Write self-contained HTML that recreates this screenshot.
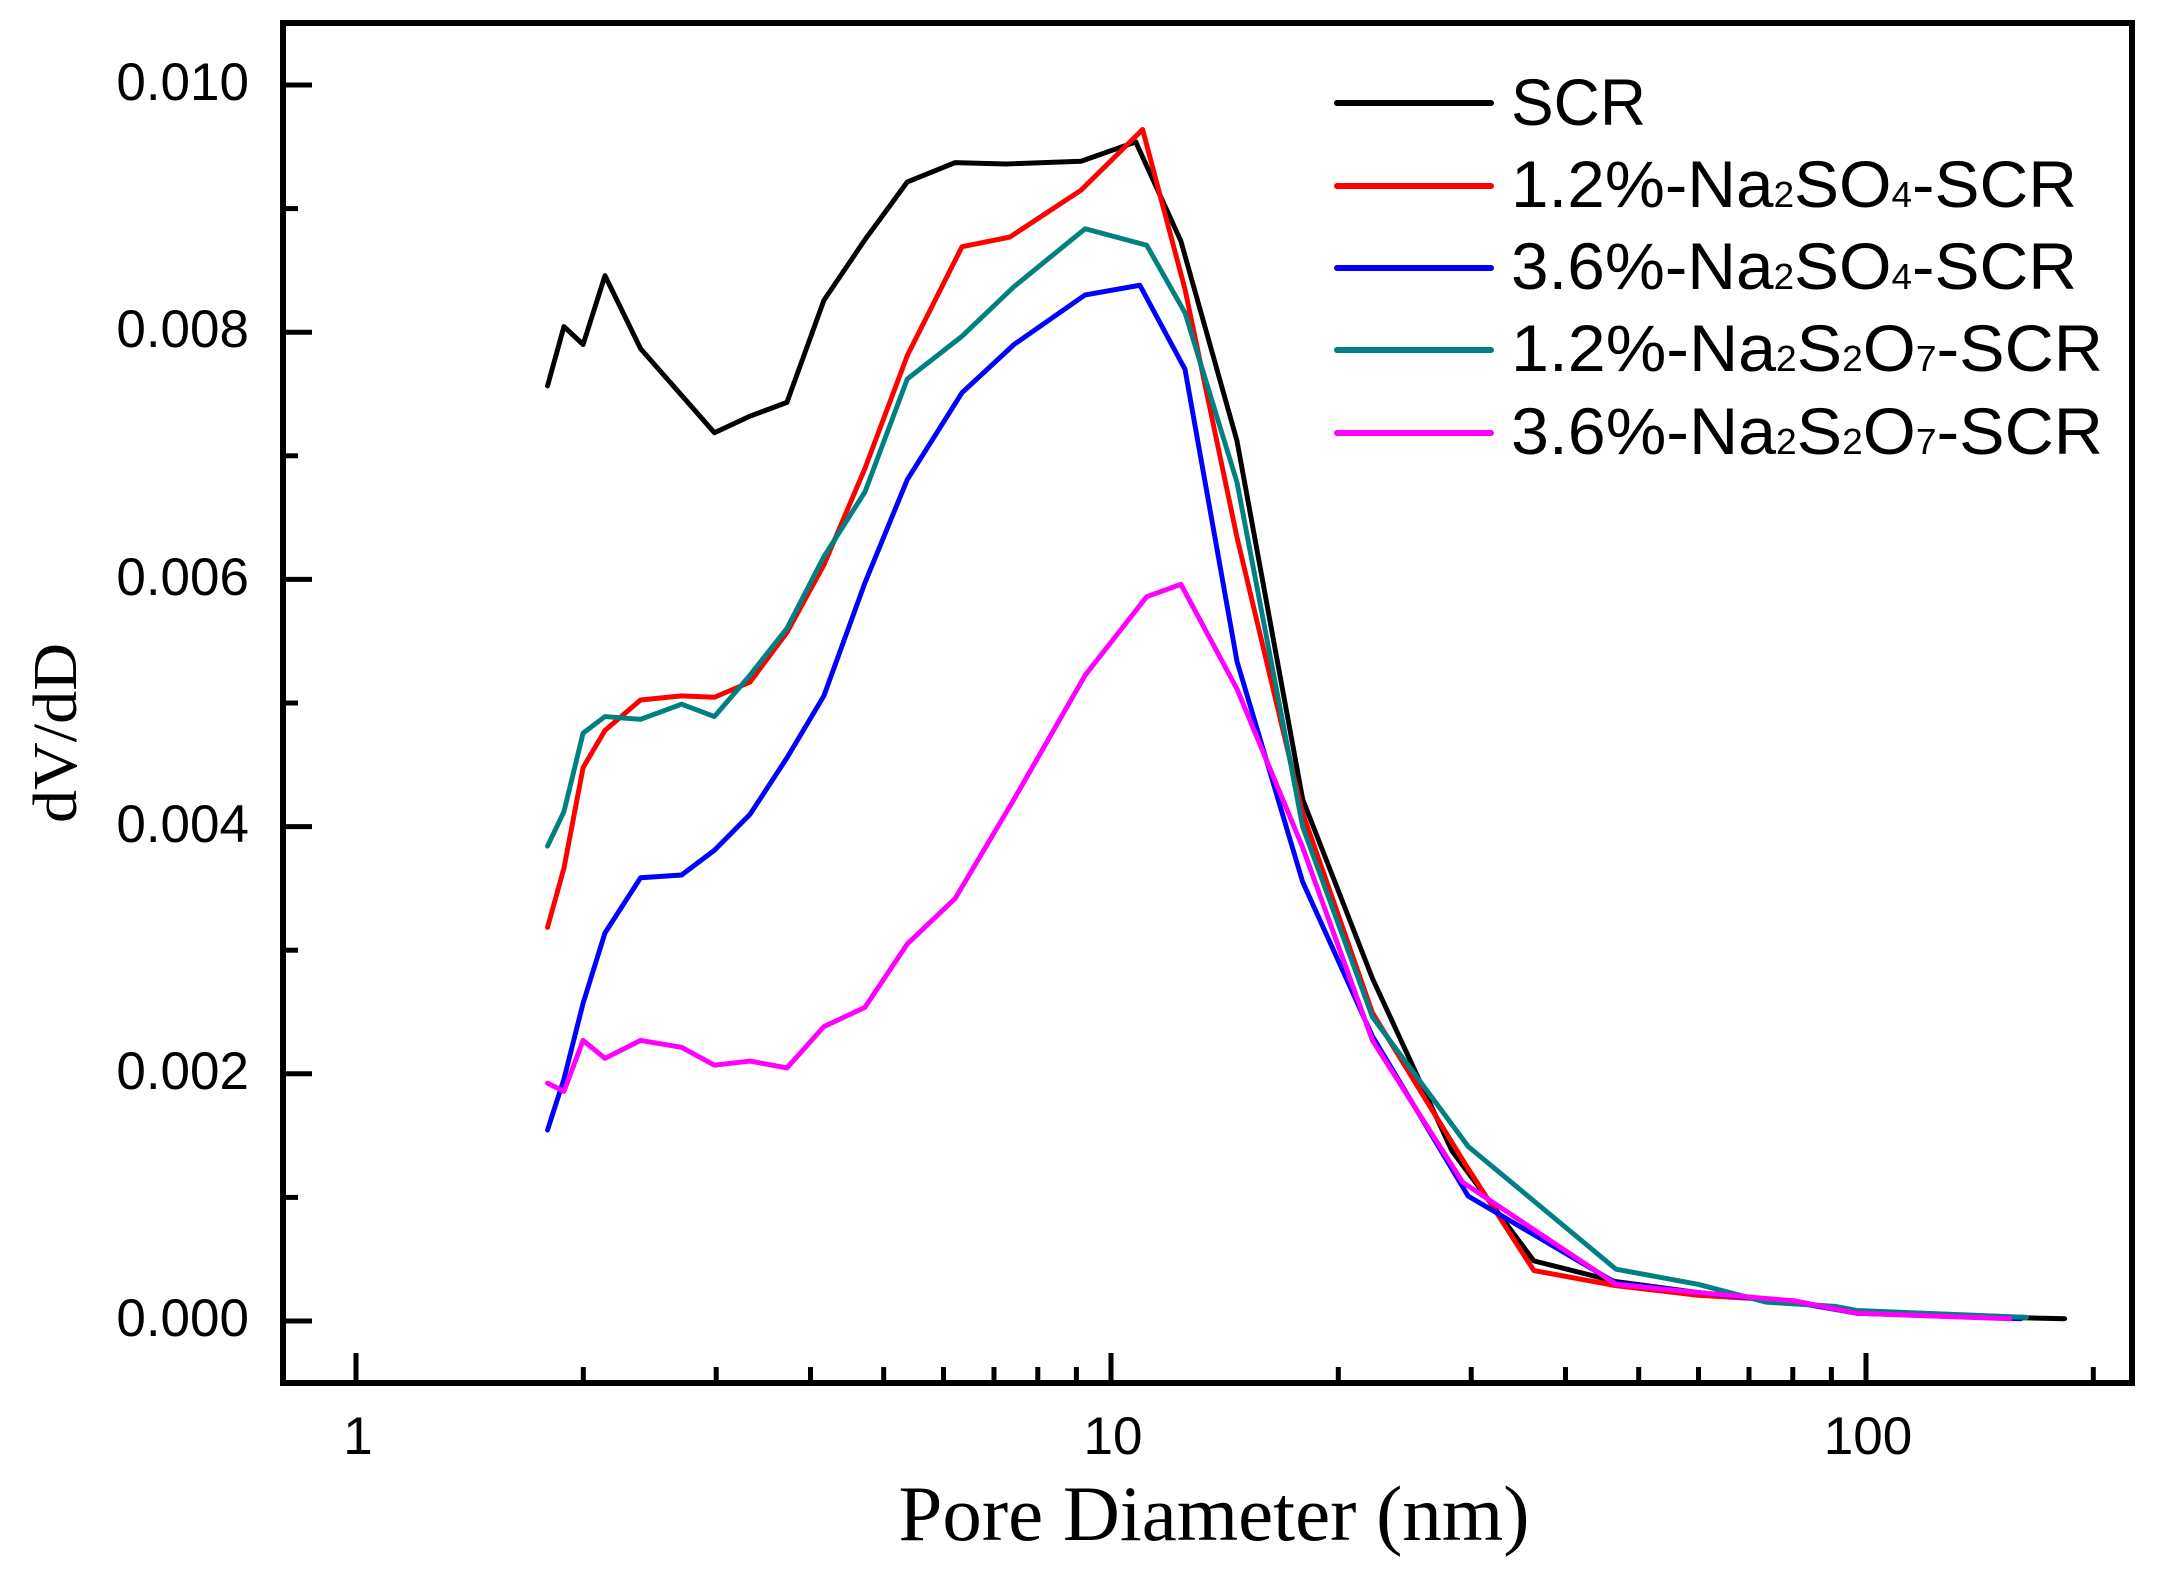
<!DOCTYPE html>
<html><head><meta charset="utf-8"><style>html,body{margin:0;padding:0;background:#fff}svg{display:block}</style></head>
<body>
<svg width="2158" height="1571" viewBox="0 0 2158 1571" xmlns="http://www.w3.org/2000/svg">
<rect width="2158" height="1571" fill="#fff"/>
<g fill="none" stroke-linejoin="round" stroke-linecap="round" stroke-width="3.6" transform="matrix(1.368,0,0,1.378,1.7,0)">
<polyline stroke="#000" points="399,280 411,237 425,250 441,200 467,253 521,314 547,302 574,292 601,218 631,174 662,132 697,118 734,119 789,117 829,103 862,175 903,320 951,580 1002,710 1060,835 1120,915 1180,930 1240,938 1310,945 1356,952 1420,955 1508,957"/>
<polyline stroke="#ff0000" points="399,673 411,630 425,557 441,530 467,508 497,505 521,506 547,495 574,459 601,410 631,340 662,258 702,179 737,172 789,138 834,94 865,210 903,390 951,590 1002,735 1070,845 1120,922 1180,933 1240,940 1310,944 1356,953 1480,956"/>
<polyline stroke="#0000ff" points="399,820 411,783 425,728 441,677 467,637 497,635 521,617 547,591 574,550 601,505 631,423 662,348 702,285 740,250 792,214 832,207 865,268 903,480 951,640 1002,752 1072,868 1180,931 1240,938 1310,945 1356,953 1476,957"/>
<polyline stroke="#008080" points="399,614 411,589 425,532 441,520 467,522 497,511 521,520 547,490 574,456 601,404 631,357 662,275 702,244 740,208 792,166 837,178 865,227 903,350 951,600 1002,738 1072,832 1180,921 1240,932 1290,945 1340,948 1356,951 1480,956"/>
<polyline stroke="#ff00ff" points="399,786 411,792 425,755 441,768 467,755 497,760 521,773 547,770 574,775 601,745 631,731 662,685 697,652 740,580 792,490 837,433 862,424 903,500 951,615 1002,755 1068,858 1180,932 1240,938 1310,944 1356,953 1468,957"/>
</g>
<rect x="283" y="23" width="1849" height="1360" fill="none" stroke="#000" stroke-width="6"/>
<g stroke="#000" stroke-width="5">
<line x1="283" y1="85" x2="312" y2="85"/><line x1="283" y1="208.6" x2="298" y2="208.6"/>
<line x1="283" y1="332.2" x2="312" y2="332.2"/><line x1="283" y1="455.8" x2="298" y2="455.8"/>
<line x1="283" y1="579.4" x2="312" y2="579.4"/><line x1="283" y1="703" x2="298" y2="703"/>
<line x1="283" y1="826.6" x2="312" y2="826.6"/><line x1="283" y1="950.2" x2="298" y2="950.2"/>
<line x1="283" y1="1073.8" x2="312" y2="1073.8"/><line x1="283" y1="1197.4" x2="298" y2="1197.4"/>
<line x1="283" y1="1321" x2="312" y2="1321"/>
<line x1="356" y1="1383" x2="356" y2="1353"/><line x1="1111" y1="1383" x2="1111" y2="1353"/><line x1="1866" y1="1383" x2="1866" y2="1353"/>
<line x1="583.3" y1="1383" x2="583.3" y2="1367"/><line x1="716.2" y1="1383" x2="716.2" y2="1367"/><line x1="810.5" y1="1383" x2="810.5" y2="1367"/><line x1="883.7" y1="1383" x2="883.7" y2="1367"/><line x1="943.5" y1="1383" x2="943.5" y2="1367"/><line x1="994" y1="1383" x2="994" y2="1367"/><line x1="1037.8" y1="1383" x2="1037.8" y2="1367"/><line x1="1076.4" y1="1383" x2="1076.4" y2="1367"/>
<line x1="1338.3" y1="1383" x2="1338.3" y2="1367"/><line x1="1471.2" y1="1383" x2="1471.2" y2="1367"/><line x1="1565.5" y1="1383" x2="1565.5" y2="1367"/><line x1="1638.7" y1="1383" x2="1638.7" y2="1367"/><line x1="1698.5" y1="1383" x2="1698.5" y2="1367"/><line x1="1749" y1="1383" x2="1749" y2="1367"/><line x1="1792.8" y1="1383" x2="1792.8" y2="1367"/><line x1="1831.4" y1="1383" x2="1831.4" y2="1367"/>
<line x1="2093.3" y1="1383" x2="2093.3" y2="1367"/>
</g>
<g font-family="Liberation Sans, sans-serif" font-size="53" text-anchor="end" fill="#000">
<text x="249" y="100">0.010</text><text x="249" y="347">0.008</text><text x="249" y="595">0.006</text>
<text x="249" y="842">0.004</text><text x="249" y="1089">0.002</text><text x="249" y="1336">0.000</text>
</g>
<g font-family="Liberation Sans, sans-serif" font-size="53" text-anchor="middle" fill="#000">
<text x="358" y="1454">1</text><text x="1113" y="1454">10</text><text x="1868" y="1454">100</text>
</g>
<text x="1214" y="1540" font-family="Liberation Serif, serif" font-size="78" text-anchor="middle" textLength="631" lengthAdjust="spacingAndGlyphs">Pore Diameter (nm)</text>
<text transform="translate(76,733) rotate(-90)" font-family="Liberation Serif, serif" font-size="62" text-anchor="middle" textLength="180" lengthAdjust="spacingAndGlyphs">dV/dD</text>
<g stroke-width="6" stroke-linecap="round">
<line x1="1337" y1="103" x2="1491" y2="103" stroke="#000"/>
<line x1="1337" y1="186" x2="1491" y2="186" stroke="#ff0000"/>
<line x1="1337" y1="268" x2="1491" y2="268" stroke="#0000ff"/>
<line x1="1337" y1="350" x2="1491" y2="350" stroke="#008080"/>
<line x1="1337" y1="433" x2="1491" y2="433" stroke="#ff00ff"/>
</g>
<g font-family="Liberation Sans, sans-serif" font-size="66" fill="#000">
<text x="1511" y="125" textLength="135" lengthAdjust="spacingAndGlyphs">SCR</text>
<text x="1511" y="207" textLength="566" lengthAdjust="spacingAndGlyphs">1.2%-Na<tspan font-size="36">2</tspan>SO<tspan font-size="36">4</tspan>-SCR</text>
<text x="1511" y="289" textLength="566" lengthAdjust="spacingAndGlyphs">3.6%-Na<tspan font-size="36">2</tspan>SO<tspan font-size="36">4</tspan>-SCR</text>
<text x="1511" y="371" textLength="592" lengthAdjust="spacingAndGlyphs">1.2%-Na<tspan font-size="36">2</tspan>S<tspan font-size="36">2</tspan>O<tspan font-size="36">7</tspan>-SCR</text>
<text x="1511" y="454" textLength="592" lengthAdjust="spacingAndGlyphs">3.6%-Na<tspan font-size="36">2</tspan>S<tspan font-size="36">2</tspan>O<tspan font-size="36">7</tspan>-SCR</text>
</g>
</svg>
</body></html>
